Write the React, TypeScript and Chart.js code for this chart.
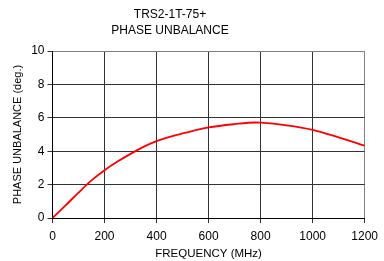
import React, { useEffect, useRef } from "react";
import { Chart, registerables } from "chart.js";

Chart.register(...registerables);

const titleLines = ["TRS2-1T-75+", "PHASE UNBALANCE"];
const xAxisTitle = "FREQUENCY (MHz)";
const yAxisTitle = "PHASE UNBALANCE (deg.)";
const frequencies = [0, 50, 100, 150, 200, 250, 300, 350, 400, 450, 500, 600, 700, 780, 800, 900, 1000, 1100, 1200];
const unbalance = [0, 0.75, 1.52, 2.25, 2.86, 3.38, 3.84, 4.26, 4.6, 4.86, 5.06, 5.42, 5.62, 5.72, 5.71, 5.55, 5.28, 4.83, 4.33];
const xTicks = [0, 200, 400, 600, 800, 1000, 1200];
const yTicks = [0, 2, 4, 6, 8, 10];

const FONT = "'Liberation Sans', Arial, Helvetica, sans-serif";

const titlePlugin = {
  id: "twoLineTitle",
  afterDraw(chart: any) {
    const c = chart.ctx;
    c.save();
    c.fillStyle = "#000";
    c.font = `12px ${FONT}`;
    c.textAlign = "center";
    c.textBaseline = "middle";
    c.fillText(titleLines[0], 170, 14.5);
    c.fillText(titleLines[1], 170, 31);
    c.restore();
  },
};

export default function App() {
  const ref = useRef<HTMLCanvasElement>(null);
  useEffect(() => {
    document.body.style.margin = "0";
    const ctx = ref.current!;
    const chart = new Chart(ctx, {
      type: "line",
      data: {
        datasets: [
          {
            data: frequencies.map((f, i) => ({ x: f, y: unbalance[i] })),
            borderColor: "#ff0000",
            borderWidth: 1.8,
            pointRadius: 0,
            cubicInterpolationMode: "monotone",
            fill: false,
          },
        ],
      },
      plugins: [titlePlugin],
      options: {
        animation: false,
        responsive: false,
        maintainAspectRatio: false,
        layout: { padding: { left: 0, right: 17, top: 51, bottom: 0 } },
        plugins: {
          legend: { display: false },
          tooltip: { enabled: false },
          title: { display: false },
        },
        scales: {
          x: {
            type: "linear",
            min: 0,
            max: 1200,
            afterBuildTicks: (s: any) => {
              s.ticks = xTicks.map((v) => ({ value: v }));
            },
            afterFit: (s: any) => {
              s.height = 43;
            },
            ticks: {
              color: "#000",
              font: { family: FONT, size: 12 },
              padding: 6,
              maxRotation: 0,
              callback: (v: any) => String(v),
            },
            grid: {
              color: (c: any) => (c.tick && c.tick.value === 1200 ? "#808080" : "#333"),
              lineWidth: 1,
              tickLength: 5,
              tickColor: "#333",
            },
            border: { color: "#000", width: 1 },
            title: {
              display: true,
              text: xAxisTitle,
              color: "#000",
              font: { family: FONT, size: 11.5 },
              padding: { top: 0, bottom: 0 },
            },
          },
          y: {
            type: "linear",
            min: 0,
            max: 10,
            afterBuildTicks: (s: any) => {
              s.ticks = yTicks.map((v) => ({ value: v }));
            },
            afterFit: (s: any) => {
              s.width = 52.5;
            },
            ticks: {
              color: "#000",
              font: { family: FONT, size: 12 },
              padding: 3,
              callback: (v: any) => String(v),
            },
            grid: {
              color: (c: any) => (c.tick && c.tick.value === 10 ? "#808080" : "#333"),
              lineWidth: 1,
              tickLength: 5,
              tickColor: "#333",
            },
            border: { color: "#000", width: 1 },
            title: {
              display: true,
              text: yAxisTitle,
              color: "#000",
              font: { family: FONT, size: 11 },
              padding: { top: 11, bottom: 0 },
            },
          },
        },
      },
    } as any);
    return () => chart.destroy();
  }, []);
  return <canvas ref={ref} width={384} height={261} style={{ display: "block", width: 384, height: 261 }} />;
}
